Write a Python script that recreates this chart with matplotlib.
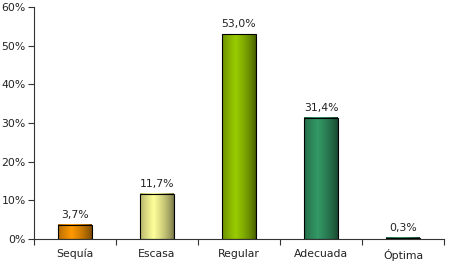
import matplotlib.pyplot as plt
import numpy as np
from matplotlib.colors import to_rgb
from matplotlib.ticker import FixedLocator

categorias = ["Sequía", "Escasa", "Regular", "Adecuada", "Óptima"]
valores = [3.7, 11.7, 53.0, 31.4, 0.3]
etiquetas = ["3,7%", "11,7%", "53,0%", "31,4%", "0,3%"]
colores = ["#ff9900", "#ffff99", "#99cc00", "#339966", "#339966"]

fig = plt.figure(figsize=(4.5, 2.67), dpi=100)
ax = fig.add_axes([34 / 450, 28 / 267, 410 / 450, 232 / 267])

x = np.arange(len(categorias))
ancho = 0.41
barras = ax.bar(x, valores, width=ancho, color="none", edgecolor="#000000", linewidth=0.8, zorder=3)

# sombreado tipo cilindro
t = np.linspace(0, 1, 64)
perfil = 0.45 + 0.55 * np.clip(1 - np.abs(t - 0.4) / 0.6, 0, 1) ** 0.7
for b, c in zip(barras, colores):
    base = np.array(to_rgb(c))
    img = np.clip(base[None, :] * perfil[:, None], 0, 1)[None, :, :]
    x0 = b.get_x()
    ax.imshow(img, extent=[x0, x0 + ancho, 0, b.get_height()], aspect="auto", zorder=2)

for xi, v, e in zip(x, valores, etiquetas):
    ax.text(xi, v + 1.3, e, ha="center", va="bottom", fontsize=7.8, color="#222222")

ax.set_xlim(-0.5, len(categorias) - 0.5)
ax.set_ylim(0, 60)
ax.set_yticks(np.arange(0, 61, 10))
ax.set_yticklabels([f"{v}%" for v in range(0, 61, 10)], fontsize=7.8, color="#222222")
ax.xaxis.set_major_locator(FixedLocator(np.arange(-0.5, len(categorias), 1)))
ax.xaxis.set_major_formatter(plt.NullFormatter())
ax.xaxis.set_minor_locator(FixedLocator(x))
ax.set_xticklabels(categorias, minor=True, fontsize=7.8, color="#222222")
ax.tick_params(axis="x", which="minor", length=0, pad=7)
ax.tick_params(axis="x", which="major", length=4, direction="out", color="#333333")
ax.tick_params(axis="y", length=4, direction="out", color="#333333", pad=2)

for s in ["top", "right"]:
    ax.spines[s].set_visible(False)
for s in ["left", "bottom"]:
    ax.spines[s].set_color("#333333")
    ax.spines[s].set_linewidth(0.8)

fig.savefig("out.png", dpi=100)
